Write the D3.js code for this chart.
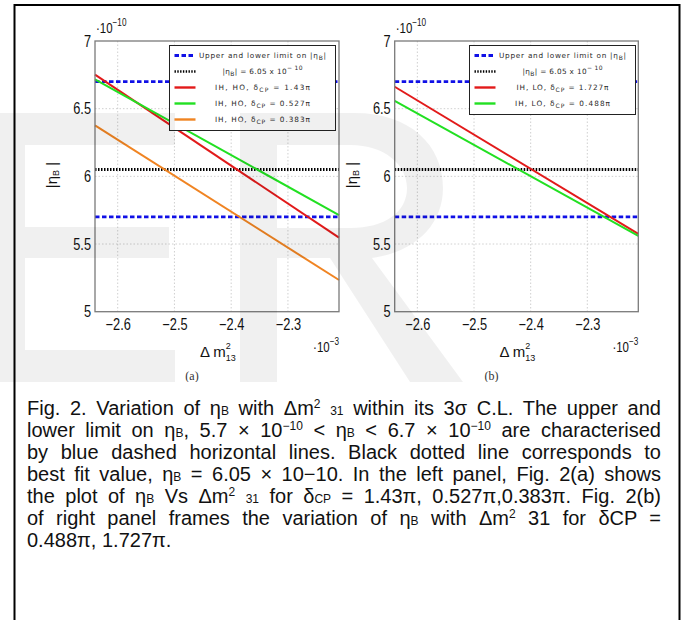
<!DOCTYPE html>
<html>
<head>
<meta charset="utf-8">
<title>eta_B vs dm2</title>
<script src="https://d3js.org/d3.v7.min.js"></script>
<style>
  body { margin: 0; background: #fff; }
  #wrap { position: relative; width: 688px; height: 620px; overflow: hidden; }
  #wrap svg { position: absolute; left: 0; top: 0; }
  #caption { position: absolute; left: 27px; top: 397px; width: 634px;
    font-family: "Liberation Sans", Arial, sans-serif; font-size: 20px; color: #111; }
  #caption div { height: 22px; line-height: 22px; white-space: nowrap; }
  .sb { font-size: 0.6em; }
  .sp { font-size: 0.6em; vertical-align: 0.6em; line-height: 0; }
</style>
</head>
<body>
<div id="wrap"></div>
<script>

// data
var xDomain = [-2.64, -2.21]
var yDomain = [5, 7]
var xTicks = [-2.6, -2.5, -2.4, -2.3]
var yTicks = [5, 5.5, 6, 6.5, 7]

var upperLimit = 6.7
var lowerLimit = 5.7
var bestFit = 6.05

// values at the two ends of the x range
var leftNames = ["IH, HO, δ|CP| = 1.43π", "IH, HO, δ|CP| = 0.527π", "IH, HO, δ|CP| = 0.383π"]
var leftColors = ["#e21a1a", "#22e022", "#f08422"]
var leftStart = [6.751, 6.717, 6.377]
var leftEnd = [5.547, 5.714, 5.234]

var rightNames = ["IH, LO, δ|CP| = 1.727π", "IH, LO, δ|CP| = 0.488π"]
var rightColors = ["#e21a1a", "#22e022"]
var rightStart = [6.662, 6.557]
var rightEnd = [5.575, 5.56]

var W = 688, H = 620
var wrap = d3.select("#wrap")
var svg = wrap.append("svg").attr("width", W).attr("height", H)

// outer frame
svg.append("path")
  .attr("d", "M14.5,640 V5 H679.5 V640")
  .attr("fill", "none").attr("stroke", "#000").attr("stroke-width", 2)

var top0 = 41, bottom0 = 311.7

function panel(x0, x1, names, colors, starts, ends, tag, legX) {
  var x = d3.scaleLinear().domain(xDomain).range([x0, x1])
  var y = d3.scaleLinear().domain(yDomain).range([bottom0, top0])
  var g = svg.append("g")

  // grid
  g.selectAll(".gx").data(xTicks).enter().append("line")
    .attr("x1", d => x(d)).attr("x2", d => x(d))
    .attr("y1", top0).attr("y2", bottom0)
    .attr("stroke", "#c4c4c4").attr("stroke-width", 0.8).attr("stroke-dasharray", "1.5 2")
  g.selectAll(".gy").data(yTicks.slice(1, -1)).enter().append("line")
    .attr("x1", x0).attr("x2", x1)
    .attr("y1", d => y(d)).attr("y2", d => y(d))
    .attr("stroke", "#c4c4c4").attr("stroke-width", 0.8).attr("stroke-dasharray", "1.5 2")

  // axes
  var ax = g.append("g").attr("transform", "translate(0," + bottom0 + ")")
    .call(d3.axisBottom(x).tickValues(xTicks).tickSize(0).tickPadding(6.5).tickFormat(d3.format("")))
  var ay = g.append("g").attr("transform", "translate(" + x0 + ",0)")
    .call(d3.axisLeft(y).tickValues(yTicks).tickSize(0).tickPadding(5).tickFormat(d3.format("")))
  ax.select(".domain").remove()
  ay.select(".domain").remove()
  g.selectAll(".tick text")
    .attr("font-family", "Liberation Sans, Arial, sans-serif")
    .attr("font-size", 16).attr("fill", "#111")
    .attr("transform", "scale(0.8,1)")

  // limit lines
  var lim = g.append("g")
  lim.selectAll("line").data([upperLimit, lowerLimit]).enter().append("line")
    .attr("x1", x0).attr("x2", x1)
    .attr("y1", d => y(d)).attr("y2", d => y(d))
    .attr("stroke", "#1010e6").attr("stroke-width", 2.8).attr("stroke-dasharray", "4.5 2.5")
  g.append("line")
    .attr("x1", x0).attr("x2", x1)
    .attr("y1", y(bestFit)).attr("y2", y(bestFit))
    .attr("stroke", "#000").attr("stroke-width", 3).attr("stroke-dasharray", "1.5 1.5")

  // series
  var line = d3.line().x(d => x(d[0])).y(d => y(d[1]))
  names.forEach(function(n, i) {
    g.append("path")
      .attr("d", line([[xDomain[0], starts[i]], [xDomain[1], ends[i]]]))
      .attr("fill", "none").attr("stroke", colors[i]).attr("stroke-width", 2)
  })

  // plot frame
  g.append("rect")
    .attr("x", x0).attr("y", top0).attr("width", x1 - x0).attr("height", bottom0 - top0)
    .attr("fill", "none").attr("stroke", "#7a7a7a").attr("stroke-width", 1.3)

  // legend
  var rows = [
    { kind: "limit", label: [["Upper and lower limit on |η", 0], ["B", -1], ["|", 0]], len: 127 },
    { kind: "best", label: [["|η", 0], ["B", -1], ["| = 6.05 x 10", 0], ["− 10", 1]], len: 80 }
  ]
  names.forEach(function(n, i) {
    var p = n.split("|")
    rows.push({ kind: "series", color: colors[i], label: [[p[0], 0], [p[1], -1], [p[2], 0]], len: i == 0 && names.length == 2 ? 92 : 95 })
  })
  var lg = g.append("g").attr("transform", "translate(" + legX + ",45.5)")
  lg.append("rect").attr("width", 166).attr("height", rows.length * 16 + 5)
    .attr("fill", "#fff").attr("stroke", "#222").attr("stroke-width", 1)
  rows.forEach(function(r, i) {
    var ry = 10 + i * 16
    var s = lg.append("line").attr("x1", 5).attr("x2", 26).attr("y1", ry).attr("y2", ry)
    if (r.kind == "limit") s.attr("stroke", "#1010e6").attr("stroke-width", 2.8).attr("stroke-dasharray", "4.5 2.5")
    else if (r.kind == "best") s.attr("stroke", "#000").attr("stroke-width", 2.6).attr("stroke-dasharray", "1.4 1.4")
    else s.attr("stroke", r.color).attr("stroke-width", 2.4)
    var t = lg.append("text").attr("x", 93).attr("y", ry + 2.5)
      .attr("text-anchor", "middle")
      .attr("font-family", "DejaVu Sans, sans-serif").attr("font-size", 7.3).attr("fill", "#2a2a2a")
      .attr("textLength", r.len).attr("lengthAdjust", "spacing")
    r.label.forEach(function(p) {
      var ts = t.append("tspan").text(p[0])
      if (p[1] == -1) ts.attr("font-size", 6).attr("baseline-shift", "-2")
      if (p[1] == 1) ts.attr("font-size", 6).attr("baseline-shift", "4")
    })
  })

  // exponent labels
  var e1 = g.append("text").attr("transform", "translate(" + (x0 + 1) + ",33) scale(0.82,1)")
    .attr("font-family", "Liberation Sans, Arial, sans-serif").attr("font-size", 14).attr("fill", "#111")
  e1.append("tspan").text("·10")
  e1.append("tspan").text("−10").attr("font-size", 10).attr("dy", -7)
  var e2 = g.append("text").attr("transform", "translate(" + x1 + ",351.7) scale(0.82,1)")
    .attr("text-anchor", "end")
    .attr("font-family", "Liberation Sans, Arial, sans-serif").attr("font-size", 14).attr("fill", "#111")
  e2.append("tspan").text("·10")
  e2.append("tspan").text("−3").attr("font-size", 10).attr("dy", -7)

  // axis titles
  var cx = (x0 + x1) / 2
  var m = g.append("text").attr("x", cx - 17).attr("y", 357)
    .attr("font-family", "Liberation Sans, Arial, sans-serif").attr("font-size", 15).attr("fill", "#111")
    .text("Δ m")
  var mw = m.node().getComputedTextLength()
  g.append("text").attr("x", cx - 17 + mw).attr("y", 349)
    .attr("font-family", "Liberation Sans, Arial, sans-serif").attr("font-size", 9).attr("fill", "#111").text("2")
  g.append("text").attr("x", cx - 17 + mw).attr("y", 361)
    .attr("font-family", "Liberation Sans, Arial, sans-serif").attr("font-size", 9).attr("fill", "#111").text("13")

  var yl = g.append("text").attr("transform", "translate(" + (x0 - 38) + ",175) rotate(-90)")
    .attr("text-anchor", "middle")
    .attr("font-family", "Liberation Sans, Arial, sans-serif").attr("font-size", 15).attr("fill", "#111")
  yl.append("tspan").text("|η")
  yl.append("tspan").text("B").attr("font-size", 9).attr("baseline-shift", "-2")
  yl.append("tspan").text(" |")

  // sub-figure tag, cut at the figure edge
  g.append("text").attr("x", cx - 25).attr("y", 380).attr("text-anchor", "middle")
    .attr("clip-path", "url(#figclip)")
    .attr("font-family", "Liberation Serif, serif").attr("font-size", 12).attr("fill", "#333")
    .text(tag)
}

svg.append("clipPath").attr("id", "figclip").append("rect")
  .attr("x", 0).attr("y", 0).attr("width", W).attr("height", 382)

panel(95, 339, leftNames, leftColors, leftStart, leftEnd, "(a)", 169.5)
panel(394.7, 638.3, rightNames, rightColors, rightStart, rightEnd, "(b)", 469.5)

// faint watermark letters over the figure
var wm = svg.append("g").attr("fill", "#000").attr("fill-opacity", 0.06)
wm.append("path")
  .attr("d", "M0,113 H175 V145 H25 V227 H169 V258 H25 V350 H175 V382 H0 Z")
wm.append("path").attr("fill-rule", "evenodd")
  .attr("d", "M240,113 H355 C410,113 443,145 443,188 C443,225 415,252 372,258 L463,382 H410 L330,258 H277 V382 H240 Z " +
    "M277,145 H350 C385,145 407,165 407,188 C407,212 385,228 350,228 H277 Z")

// caption, each line spread to the full width
var capLines = [
  "Fig. 2. Variation of η<span class='sb'>B</span> with Δm<span class='sp'>2</span> <span class='sb'>31</span> within its 3σ C.L. The upper and",
  "lower limit on η<span class='sb'>B</span>, 5.7 × 10<span class='sp'>−10</span> &lt; η<span class='sb'>B</span> &lt; 6.7 × 10<span class='sp'>−10</span> are characterised",
  "by blue dashed horizontal lines. Black dotted line corresponds to",
  "best fit value, η<span class='sb'>B</span> = 6.05 × 10−10. In the left panel, Fig. 2(a) shows",
  "the plot of η<span class='sb'>B</span> Vs Δm<span class='sp'>2</span> <span class='sb'>31</span> for δ<span class='sb'>CP</span> = 1.43π, 0.527π,0.383π. Fig. 2(b)",
  "of right panel frames the variation of η<span class='sb'>B</span> with Δm<span class='sp'>2</span> 31 for δCP =",
  "0.488π, 1.727π."
]
var cap = wrap.append("div").attr("id", "caption")
cap.selectAll("div").data(capLines).enter().append("div")
  .append("span").html(d => d)
cap.selectAll("div > span").each(function(d, i) {
  if (i == capLines.length - 1) return
  var w = this.getBoundingClientRect().width
  var n = (this.textContent.match(/ /g) || []).length
  d3.select(this).style("word-spacing", ((634 - w) / n) + "px")
})

</script>
</body>
</html>
